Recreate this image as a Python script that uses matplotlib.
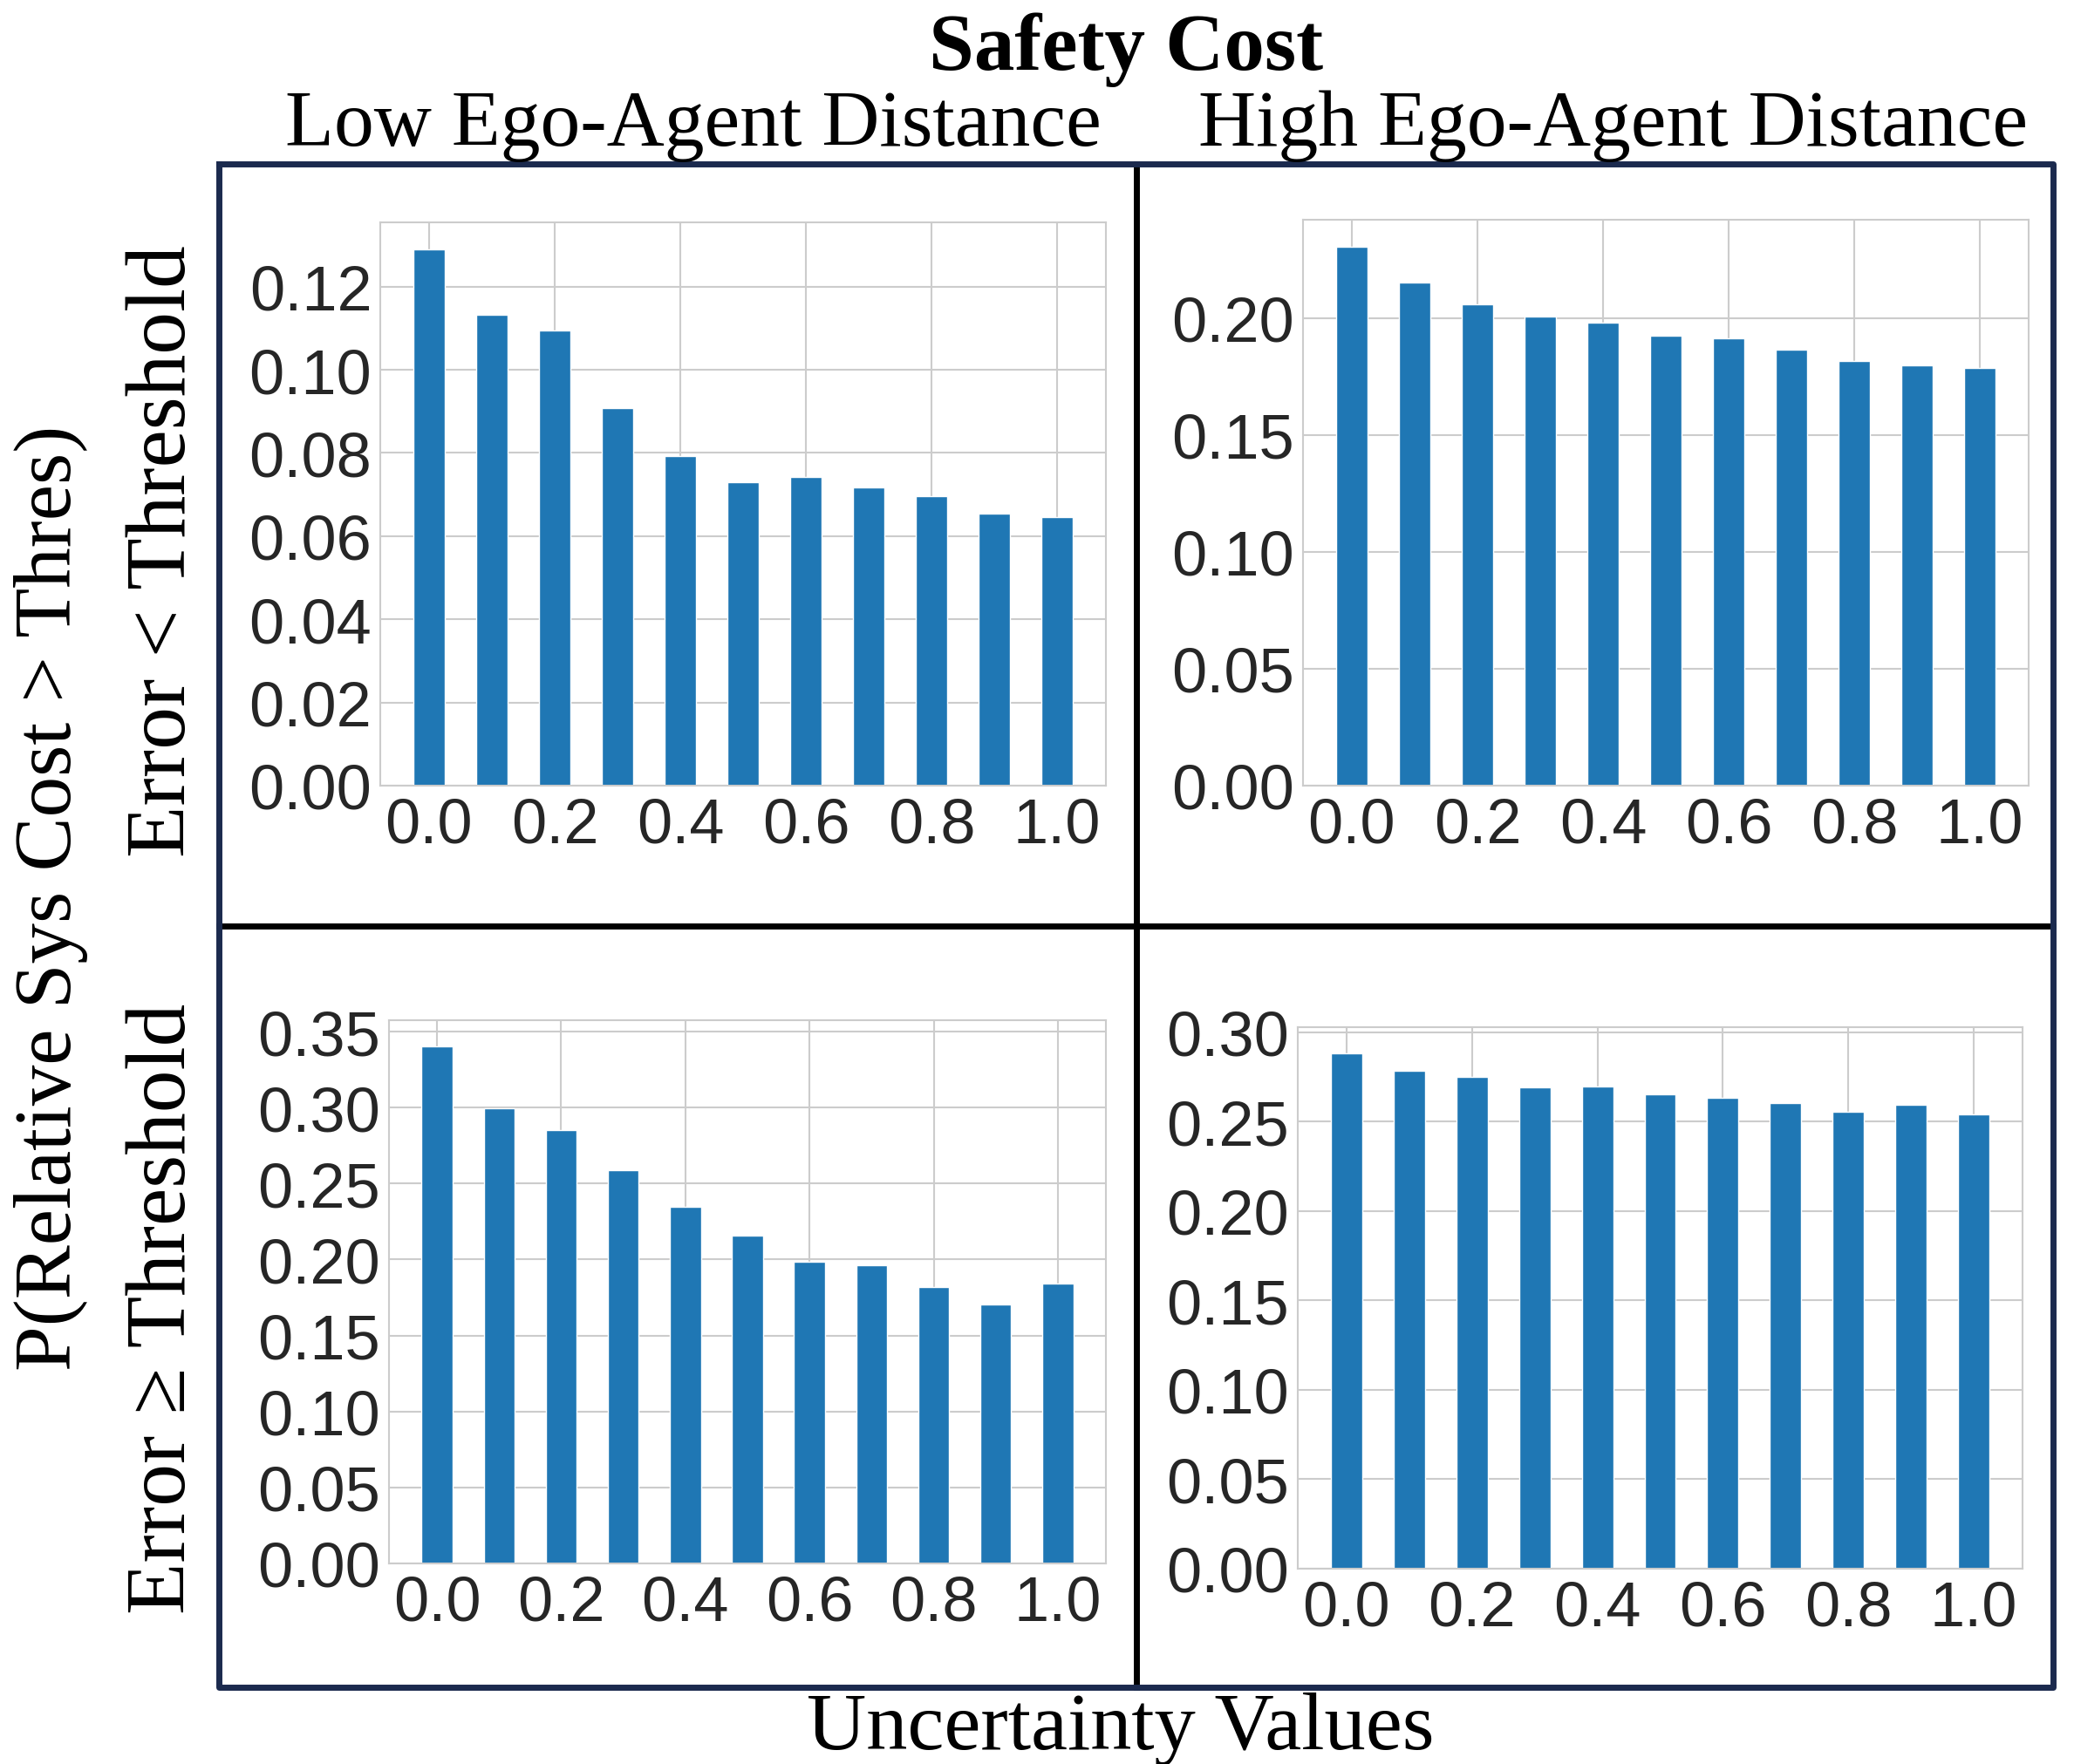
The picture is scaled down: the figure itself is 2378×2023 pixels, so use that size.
import numpy as np
import matplotlib
matplotlib.use('Agg')
import matplotlib.pyplot as plt
from matplotlib.lines import Line2D
import seaborn as sns

# ── data ──
uncertainty = [0.0, 0.1, 0.2, 0.3, 0.4, 0.5, 0.6, 0.7, 0.8, 0.9, 1.0]

low_dist_small_err = [0.129, 0.1133, 0.1094, 0.0907, 0.0793, 0.0729,
                      0.0742, 0.0717, 0.0696, 0.0654, 0.0646]
high_dist_small_err = [0.2305, 0.2150, 0.2060, 0.2006, 0.1979, 0.1923,
                       0.1912, 0.1863, 0.1815, 0.1796, 0.1785]
low_dist_large_err = [0.3405, 0.2996, 0.2855, 0.2588, 0.2348, 0.2157,
                      0.1986, 0.1962, 0.1817, 0.1702, 0.1844]
high_dist_large_err = [0.2883, 0.2785, 0.2749, 0.2693, 0.2698, 0.2651,
                       0.2634, 0.2603, 0.2556, 0.2595, 0.2542]

col_titles = ["Low Ego-Agent Distance", "High Ego-Agent Distance"]
row_titles = ["Error < Threshold", "Error \u2265 Threshold"]
y_ticks = [np.arange(0, 0.121, 0.02), np.arange(0, 0.201, 0.05),
           np.arange(0, 0.351, 0.05), np.arange(0, 0.301, 0.05)]
x_ticks = [0.0, 0.2, 0.4, 0.6, 0.8, 1.0]

# ── figure ──
sns.set_style("whitegrid")
W, H = 2378, 2024
fig = plt.figure(figsize=(W / 100, H / 100), dpi=100)

def frac(x0, y0, x1, y1):
    # pixel box (top-left origin) -> figure fraction rect
    return [x0 / W, 1 - y1 / H, (x1 - x0) / W, (y1 - y0) / H]

boxes = [(436, 256, 1268, 902), (1494, 253, 2326, 902),
         (446, 1171, 1268, 1794), (1488, 1179, 2319, 1800)]
series = [low_dist_small_err, high_dist_small_err,
          low_dist_large_err, high_dist_large_err]

SERIF = "Liberation Serif"
SANS = "Liberation Sans"

for box, vals, yt in zip(boxes, series, y_ticks):
    ax = fig.add_axes(frac(*box))
    ax.bar(uncertainty, vals, width=0.05, color="#1f77b4")
    ax.set_xticks(x_ticks)
    ax.set_xticklabels([f"{t:.1f}" for t in x_ticks])
    ax.set_yticks(yt)
    ax.set_yticklabels([f"{t:.2f}" for t in yt])
    ax.tick_params(axis="both", labelsize=52, labelcolor="#262626", length=0)
    ax.tick_params(axis="x", pad=9)
    ax.tick_params(axis="y", pad=7)
    for lab in ax.get_xticklabels() + ax.get_yticklabels():
        lab.set_family(SANS)
    ax.grid(True, color="#cccccc", linewidth=1.5)
    ax.set_axisbelow(True)
    for sp in ax.spines.values():
        sp.set_color("#cccccc")
        sp.set_linewidth(1.5)

# ── frame and dividers ──
L, R, T, B = 251, 2354, 189, 1936
VX, HY = 1303, 1063
navy = "#1b2a4e"

def fline(xs, ys, color):
    fig.add_artist(Line2D([x / W for x in xs], [1 - y / H for y in ys],
                          color=color, linewidth=5, transform=fig.transFigure,
                          solid_capstyle="projecting"))

fline([VX, VX], [T, B], "black")
fline([L, R], [HY, HY], "black")
fline([L, R, R, L, L], [T, T, B, B, T], navy)

# ── text ──
txt = dict(family=SERIF, color="black")
fig.text(1291 / W, 1 - 80 / H, "Safety Cost", ha="center", va="baseline",
         fontsize=67, fontweight="bold", **txt)
fig.text(795 / W, 1 - 167 / H, col_titles[0], ha="center", va="baseline",
         fontsize=66, **txt)
fig.text(1850 / W, 1 - 167 / H, col_titles[1], ha="center", va="baseline",
         fontsize=66, **txt)
fig.text(59 / W, 1 - 1030 / H, "P(Relative Sys Cost > Thres)", rotation=90,
         ha="center", va="center", fontsize=67, **txt)
fig.text(189 / W, 1 - 632 / H, row_titles[0], rotation=90,
         ha="center", va="center", fontsize=70, **txt)
fig.text(189 / W, 1 - 1501 / H, row_titles[1], rotation=90,
         ha="center", va="center", fontsize=70, **txt)
fig.text(1285 / W, 1 - 2006 / H, "Uncertainty Values", ha="center",
         va="baseline", fontsize=68, **txt)

plt.savefig("out.png", dpi=100)
plt.close()
